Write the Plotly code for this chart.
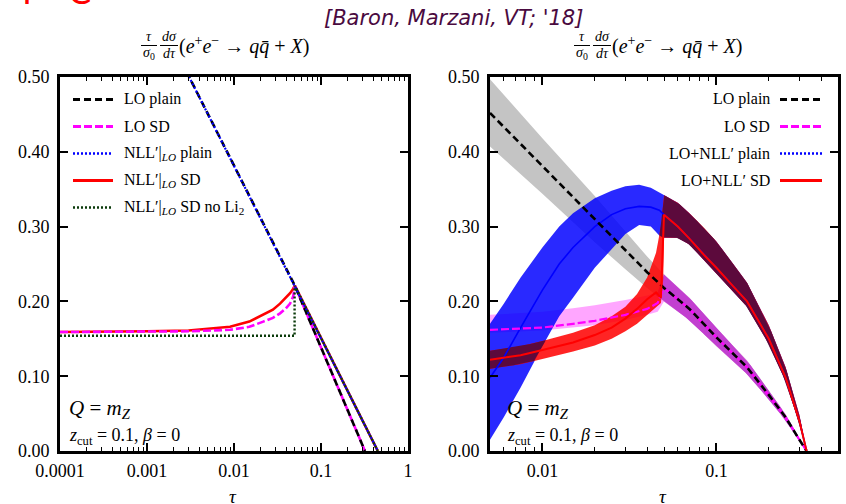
import numpy as np
import plotly.graph_objects as go

W, H = 846, 504

# ---------------- left panel data ----------------
tauL_plain = [0.0025, 0.05, 0.45]
nll_plain_L = [0.52, 0.221, 0.0]
tauL_LO = [0.0025, 0.05, 0.32]
lo_plain_L = [0.52, 0.221, 0.0]
tauL_losd = [1e-4, 3e-4, 1e-3, 3e-3, 0.009, 0.015, 0.0217, 0.028, 0.0338, 0.039, 0.0441, 0.048, 0.05, 0.32]
lo_sd_L = [0.159, 0.159, 0.159, 0.160, 0.162, 0.166, 0.173, 0.178, 0.184, 0.190, 0.197, 0.207, 0.221, 0.0]
tauL_nsd = [1e-4, 3e-4, 1e-3, 3e-3, 0.009, 0.015, 0.0217, 0.028, 0.0338, 0.039, 0.0441, 0.048, 0.05, 0.45]
nll_sd_L = [0.159, 0.159, 0.160, 0.161, 0.166, 0.173, 0.182, 0.189, 0.197, 0.204, 0.211, 0.217, 0.221, 0.0]
tauL_noli2 = [1e-4, 0.0497, 0.04971, 0.05, 0.45]
nll_noli2_L = [0.154, 0.154, 0.215, 0.221, 0.0]

# ---------------- right panel data ----------------
tauR_lo = [0.005, 0.01, 0.02, 0.03, 0.04, 0.05, 0.07, 0.1, 0.15, 0.2, 0.25, 0.3, 0.33]
lo_plain_R = [0.452, 0.381, 0.310, 0.268, 0.239, 0.218, 0.190, 0.152, 0.112, 0.075, 0.045, 0.015, 0.0]
lo_plain_R_hi = [0.497, 0.418, 0.341, 0.293, 0.260, 0.236, 0.205, 0.164, 0.121, 0.081, 0.049, 0.017, 0.0]
lo_plain_R_lo = [0.407, 0.344, 0.279, 0.243, 0.218, 0.200, 0.175, 0.140, 0.103, 0.069, 0.041, 0.013, 0.0]

tauR_losd = [0.005, 0.01, 0.015, 0.02, 0.03, 0.04, 0.046, 0.05, 0.07, 0.1, 0.15, 0.2, 0.25, 0.3, 0.33]
lo_sd_R = [0.162, 0.165, 0.170, 0.174, 0.182, 0.190, 0.198, 0.218, 0.190, 0.152, 0.112, 0.075, 0.045, 0.015, 0.0]
lo_sd_R_hi = [0.182, 0.186, 0.191, 0.195, 0.202, 0.208, 0.212, 0.236, 0.205, 0.164, 0.121, 0.081, 0.049, 0.017, 0.0]
lo_sd_R_lo = [0.158, 0.161, 0.165, 0.168, 0.175, 0.182, 0.186, 0.200, 0.175, 0.140, 0.103, 0.069, 0.041, 0.013, 0.0]

tauR_np = [0.005, 0.006, 0.0075, 0.01, 0.0125, 0.015, 0.02, 0.025, 0.03, 0.036, 0.042, 0.047, 0.05,
           0.06, 0.07, 0.085, 0.1, 0.125, 0.15, 0.2, 0.25, 0.3, 0.33]
nll_plain_R = [0.098, 0.125, 0.165, 0.215, 0.250, 0.272, 0.300, 0.316, 0.324, 0.327, 0.326, 0.322, 0.316,
               0.300, 0.284, 0.262, 0.245, 0.220, 0.200, 0.150, 0.098, 0.040, 0.0]
nll_plain_R_hi = [0.170, 0.197, 0.232, 0.272, 0.300, 0.318, 0.338, 0.348, 0.354, 0.356, 0.352, 0.346, 0.342,
                  0.332, 0.318, 0.298, 0.280, 0.250, 0.225, 0.168, 0.112, 0.048, 0.0]
nll_plain_R_lo = [0.015, 0.045, 0.085, 0.140, 0.180, 0.205, 0.245, 0.270, 0.290, 0.302, 0.300, 0.288, 0.285,
                  0.285, 0.276, 0.255, 0.238, 0.213, 0.193, 0.143, 0.093, 0.036, 0.0]

tauR_sd = [0.005, 0.0075, 0.01, 0.015, 0.02, 0.025, 0.03, 0.035, 0.04, 0.045, 0.048, 0.0495, 0.05,
           0.06, 0.07, 0.085, 0.1, 0.125, 0.15, 0.2, 0.25, 0.3, 0.33]
nll_sd_R = [0.122, 0.128, 0.135, 0.145, 0.155, 0.165, 0.177, 0.190, 0.203, 0.212, 0.205, 0.280, 0.316,
            0.300, 0.284, 0.262, 0.245, 0.220, 0.200, 0.150, 0.098, 0.040, 0.0]
nll_sd_R_hi = [0.134, 0.140, 0.147, 0.158, 0.168, 0.180, 0.193, 0.210, 0.232, 0.265, 0.300, 0.335, 0.342,
               0.332, 0.318, 0.298, 0.280, 0.250, 0.225, 0.168, 0.112, 0.048, 0.0]
nll_sd_R_lo = [0.110, 0.116, 0.123, 0.133, 0.141, 0.150, 0.160, 0.170, 0.182, 0.192, 0.198, 0.230, 0.285,
               0.285, 0.276, 0.255, 0.238, 0.213, 0.193, 0.143, 0.093, 0.036, 0.0]

# ---------------- text ----------------
yticks = [0.0, 0.1, 0.2, 0.3, 0.4, 0.5]
yticktext = ["0.00", "0.10", "0.20", "0.30", "0.40", "0.50"]
xticksL = [1e-4, 1e-3, 1e-2, 1e-1, 1]
xticktextL = ["0.0001", "0.001", "0.01", "0.1", "1"]
xticksR = [0.01, 0.1]
xticktextR = ["0.01", "0.1"]
legL = ["LO plain", "LO SD", "NLL′|<sub><i>LO</i></sub> plain", "NLL′|<sub><i>LO</i></sub> SD",
        "NLL′|<sub><i>LO</i></sub> SD no Li<sub>2</sub>"]
legR = ["LO plain", "LO SD", "LO+NLL′ plain", "LO+NLL′ SD"]

SERIF = "Liberation Serif"
C_GRAY, C_PINK, C_PURP = "#c4c4c4", "rgba(255,0,255,0.35)", "#c23fd0"
C_BLUE, C_RED, C_MAR = "rgba(0,0,255,0.84)", "rgba(255,0,0,0.86)", "#5c0a3c"

fig = go.Figure()


def px(x):
    return x / W


def py(y):
    return 1 - y / H


def band(t, lo, hi, color, xa, ya):
    fig.add_trace(go.Scatter(x=list(t) + list(t)[::-1], y=list(hi) + list(lo)[::-1], fill="toself",
                             mode="lines", line=dict(width=0), fillcolor=color, hoverinfo="skip",
                             showlegend=False, xaxis=xa, yaxis=ya))


def overlap(ta, la, ua, tb, lb, ub, color, xa, ya, n=800):
    t0, t1 = max(min(ta), min(tb)), min(max(ta), max(tb))
    g = np.logspace(np.log10(t0), np.log10(t1), n)
    lg = np.log10(g)
    L = np.maximum(np.interp(lg, np.log10(ta), la), np.interp(lg, np.log10(tb), lb))
    U = np.minimum(np.interp(lg, np.log10(ta), ua), np.interp(lg, np.log10(tb), ub))
    m = U > L + 1e-5
    i = 0
    while i < n:
        if m[i]:
            j = i
            while j + 1 < n and m[j + 1]:
                j += 1
            if j > i:
                band(g[i:j + 1], L[i:j + 1], U[i:j + 1], color, xa, ya)
            i = j + 1
        else:
            i += 1


def line(t, v, color, width, dash, xa, ya):
    fig.add_trace(go.Scatter(x=t, y=v, mode="lines", line=dict(color=color, width=width, dash=dash),
                             hoverinfo="skip", showlegend=False, xaxis=xa, yaxis=ya))


# ---- left panel lines ----
line(tauL_nsd, nll_sd_L, "red", 2.6, "solid", "x", "y")
line(tauL_losd, lo_sd_L, "#ff00ff", 2.6, "8px,3px", "x", "y")
line(tauL_LO, lo_plain_L, "black", 2.6, "7px,4px", "x", "y")
line(tauL_plain, nll_plain_L, "#0000ff", 2.2, "2px,2px", "x", "y")
line(tauL_noli2, nll_noli2_L, "#0a3a0a", 2.4, "2px,2px", "x", "y")

# ---- right panel bands ----
band(tauR_lo, lo_plain_R_lo, lo_plain_R_hi, C_GRAY, "x2", "y2")
band(tauR_losd, lo_sd_R_lo, lo_sd_R_hi, C_PINK, "x2", "y2")
overlap(tauR_lo, lo_plain_R_lo, lo_plain_R_hi, tauR_losd, lo_sd_R_lo, lo_sd_R_hi, C_PURP, "x2", "y2")
band(tauR_np, nll_plain_R_lo, nll_plain_R_hi, C_BLUE, "x2", "y2")
band(tauR_sd, nll_sd_R_lo, nll_sd_R_hi, C_RED, "x2", "y2")
overlap(tauR_np, nll_plain_R_lo, nll_plain_R_hi, tauR_sd, nll_sd_R_lo, nll_sd_R_hi, C_MAR, "x2", "y2")
line(tauR_np, nll_plain_R, "#0000ff", 1.6, "solid", "x2", "y2")
line(tauR_losd, lo_sd_R, "#ff00ff", 2.2, "8px,3px", "x2", "y2")
line(tauR_lo, lo_plain_R, "black", 2.6, "7px,4px", "x2", "y2")
line(tauR_sd, nll_sd_R, "#ff0000", 2.0, "solid", "x2", "y2")

# ---- axes ----
minorL = [k * 10.0 ** e for e in range(-4, 0) for k in range(2, 10)]
minorR = [k * 10.0 ** e for e, ks in ((-3, range(6, 10)), (-2, range(2, 10)), (-1, range(2, 6))) for k in ks]
tickfont = dict(family=SERIF, size=18, color="black")
ax_common = dict(showline=True, linecolor="black", linewidth=2.6, mirror="allticks", ticks="inside",
                 ticklen=8, tickwidth=1.6, tickcolor="black", showgrid=False, zeroline=False,
                 tickfont=tickfont, automargin=False)
y0, y1 = py(451), py(77)
fig.update_layout(
    width=W, height=H, margin=dict(l=0, r=0, t=0, b=0, pad=0), paper_bgcolor="white", plot_bgcolor="white",
    font=dict(family=SERIF, color="black"),
    xaxis=dict(type="log", range=[-4, 0], domain=[px(60), px(408)], anchor="y",
               tickvals=xticksL, ticktext=xticktextL, ticklabelstandoff=2,
               minor=dict(ticks="inside", ticklen=4, tickwidth=1.3, tickcolor="black", tickvals=minorL),
               **ax_common),
    yaxis=dict(range=[0, 0.5], domain=[y0, y1], anchor="x", tickvals=yticks, ticktext=yticktext,
               ticklabelstandoff=4, **ax_common),
    xaxis2=dict(type="log", range=[np.log10(0.005), np.log10(0.5)], domain=[px(490), px(838)], anchor="y2",
                tickvals=xticksR, ticktext=xticktextR, ticklabelstandoff=2,
                minor=dict(ticks="inside", ticklen=4, tickwidth=1.3, tickcolor="black", tickvals=minorR),
                **ax_common),
    yaxis2=dict(range=[0, 0.5], domain=[y0, y1], anchor="x2", tickvals=yticks, ticktext=yticktext,
                ticklabelstandoff=4, **ax_common),
)

ann = []
shapes = []


def text(x, y, s, size, xanchor="center", family=SERIF, color="black", yanchor="middle"):
    ann.append(dict(x=px(x), y=py(y), xref="paper", yref="paper", text=s, showarrow=False,
                    xanchor=xanchor, yanchor=yanchor, borderpad=0,
                    font=dict(family=family, size=size, color=color)))


def hline(x0, x1, y, color, width, dash):
    shapes.append(dict(type="line", xref="paper", yref="paper", x0=px(x0), x1=px(x1), y0=py(y), y1=py(y),
                       line=dict(color=color, width=width, dash=dash)))


# header
text(453, 18, "<i>[Baron, Marzani, VT; '18]</i>", 21, family="DejaVu Sans", color="#4a0a40")
text(27, 13, "I", 34, family="DejaVu Sans", color="red", yanchor="bottom")
text(80, 13, "C", 34, family="DejaVu Sans", color="red", yanchor="bottom")

# subtitles (stacked fractions)
for dx in (0, 433):
    text(149 + dx, 37, "<i>τ</i>", 14)
    text(149 + dx, 54, "<i>σ</i><sub>0</sub>", 14)
    text(169 + dx, 37, "<i>dσ</i>", 14)
    text(169 + dx, 54, "<i>dτ</i>", 14)
    hline(141 + dx, 157 + dx, 45.5, "black", 1, "solid")
    hline(160 + dx, 178 + dx, 45.5, "black", 1, "solid")
    text(178 + dx, 45, "(<i>e</i><sup>+</sup><i>e</i><sup>−</sup> → <i>q</i><i>q̄</i> + <i>X</i>)", 20,
         xanchor="left")

# x titles
text(233, 496, "<i>τ</i>", 19)
text(663, 496, "<i>τ</i>", 19)

# in-plot labels
for x0 in (68, 506):
    text(x0, 409, "<i>Q</i> = <i>m</i><sub><i>Z</i></sub>", 21, xanchor="left")
    text(x0, 436, "<i>z</i><sub>cut</sub> = 0.1, <i>β</i> = 0", 18, xanchor="left")

# left legend
styleL = [("black", 3, "7px,4px"), ("#ff00ff", 3, "8px,3px"), ("#0000ff", 2.4, "2px,2px"),
          ("red", 3, "solid"), ("#0a3a0a", 2.6, "2px,2px")]
for i, (lab, st) in enumerate(zip(legL, styleL)):
    y = 99.5 + 27 * i
    hline(73, 113, y, *st)
    text(123, y, lab, 16, xanchor="left")

# right legend
styleR = [("black", 3, "7px,4px"), ("#ff00ff", 3, "8px,3px"), ("#0000ff", 2.4, "2px,2px"),
          ("red", 3, "solid")]
for i, (lab, st) in enumerate(zip(legR, styleR)):
    y = 99.5 + 27 * i
    hline(780, 822, y, *st)
    text(771, y, lab, 16, xanchor="right")

fig.update_layout(annotations=ann, shapes=shapes)
fig.write_html("out.html")
